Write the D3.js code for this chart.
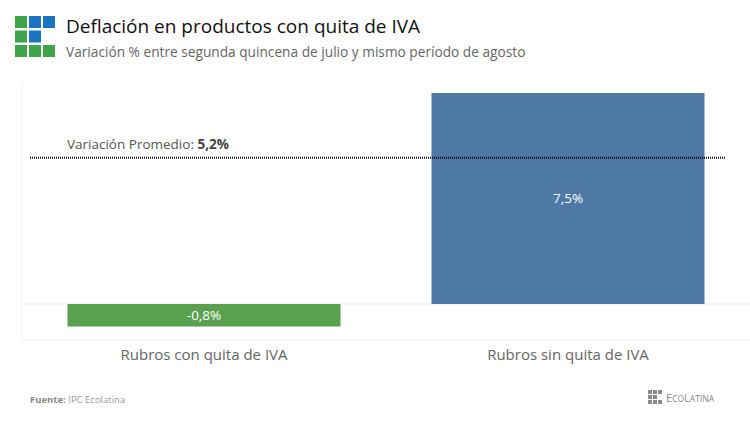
<!DOCTYPE html>
<html><head><meta charset="utf-8">
<script src="https://cdn.jsdelivr.net/npm/d3@7"></script>
<style>body{margin:0;background:#fff;}svg{display:block;}</style>
</head><body>
<script>
const categories = ["Rubros con quita de IVA", "Rubros sin quita de IVA"];
const values = [-0.8, 7.5];
const barColors = ["#59a14f", "#4e79a7"];
const averageValue = 5.2;
const averageLabel = "Variación Promedio: ";
const title = "Deflación en productos con quita de IVA";
const subtitle = "Variación % entre segunda quincena de julio y mismo período de agosto";
const fmt = v => d3.format(".1f")(v).replace(".", ",").replace("\u2212", "-") + "%";

const W = 750, H = 421;
const svg = d3.select("body").append("svg").attr("width", W).attr("height", H);
const font = "'Open Sans', 'Noto Sans', sans-serif";

// Logo
const logoCells = [["g","b","b"],["g","b",null],["g","g","g"]];
const logoCol = {g:"#3ea54a", b:"#1b74c0"};
logoCells.forEach((row, r) => row.forEach((c, k) => {
  if (c) svg.append("rect").attr("x", 15 + k*14).attr("y", 16 + r*14.5).attr("width", 12).attr("height", 12).attr("fill", logoCol[c]);
}));
svg.append("text").attr("x", 66).attr("y", 33).attr("font-family", font).attr("font-size", 19)
  .attr("fill", "#111").text(title);
svg.append("text").attr("x", 66).attr("y", 57).attr("font-family", font).attr("font-size", 13.7)
  .attr("fill", "#666").text(subtitle);

// Plot
const plotLeft = 22, plotRight = 750, plotTop = 84, plotBottom = 340;
const x = d3.scaleBand().domain(categories).range([plotLeft, plotRight]).paddingInner(0.25).paddingOuter(0.125);
const y = d3.scaleLinear().domain([0, 7.5]).range([304, 93]);

svg.append("line").attr("x1", plotLeft).attr("x2", plotLeft).attr("y1", plotTop).attr("y2", plotBottom).attr("stroke", "#f0f0f0");
svg.append("line").attr("x1", plotLeft).attr("x2", plotRight).attr("y1", plotBottom).attr("y2", plotBottom).attr("stroke", "#f0f0f0");
svg.append("line").attr("x1", plotLeft).attr("x2", plotRight).attr("y1", y(0)).attr("y2", y(0)).attr("stroke", "#ebebeb");

svg.selectAll("rect.bar").data(values).join("rect").attr("class", "bar")
  .attr("x", (d, i) => x(categories[i])).attr("width", x.bandwidth())
  .attr("y", d => y(Math.max(0, d))).attr("height", d => Math.abs(y(d) - y(0)))
  .attr("fill", (d, i) => barColors[i]);

svg.selectAll("text.val").data(values).join("text").attr("class", "val")
  .attr("x", (d, i) => x(categories[i]) + x.bandwidth()/2)
  .attr("y", d => (y(d) + y(0))/2).attr("dy", "0.35em")
  .attr("text-anchor", "middle").attr("font-family", font).attr("font-size", 13.5)
  .attr("fill", "#fff").text(fmt);

// Category axis labels
const xAxis = d3.axisBottom(x).tickSize(0).tickPadding(0);
const gx = svg.append("g").attr("transform", `translate(0,${plotBottom + 20})`).call(xAxis);
gx.select(".domain").remove();
gx.selectAll("text").attr("font-family", font).attr("font-size", 15).attr("fill", "#666").attr("dy", "0");

// Average line
svg.append("line").attr("x1", 30).attr("x2", 726).attr("y1", y(averageValue)).attr("y2", y(averageValue))
  .attr("stroke", "#111").attr("stroke-width", 2).attr("stroke-dasharray", "1,1");
const avgT = svg.append("text").attr("x", 67).attr("y", y(averageValue) - 9)
  .attr("font-family", font).attr("font-size", 13.5).attr("fill", "#555");
avgT.append("tspan").text(averageLabel);
avgT.append("tspan").attr("font-weight", "bold").attr("fill", "#444").text(fmt(averageValue));

// Footer
const ft = svg.append("text").attr("x", 30).attr("y", 403).attr("font-family", font).attr("font-size", 9.5).attr("fill", "#888");
ft.append("tspan").attr("font-weight", "bold").text("Fuente: ");
ft.append("tspan").attr("fill", "#999").text(" IPC Ecolatina");

// Ecolatina small logo
for (let r = 0; r < 3; r++) for (let k = 0; k < 3; k++) {
  if (r === 1 && k === 2) continue;
  svg.append("rect").attr("x", 648 + k*5).attr("y", 390 + r*5).attr("width", 4).attr("height", 4).attr("fill", "#8a8a8a");
}
const el = svg.append("text").attr("x", 666).attr("y", 402).attr("font-family", font).attr("fill", "#888").attr("font-size", 11);
el.append("tspan").text("E");
el.append("tspan").attr("font-size", 8.5).text("CO");
el.append("tspan").text("L");
el.append("tspan").attr("font-size", 8.5).text("ATINA");
</script>
</body></html>
